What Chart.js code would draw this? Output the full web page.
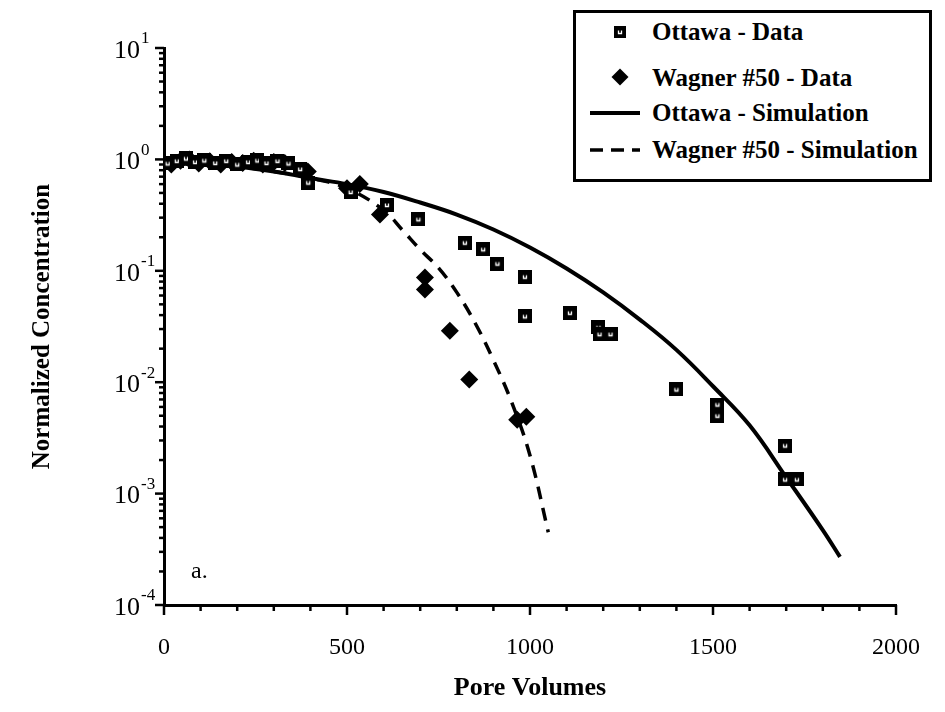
<!DOCTYPE html>
<html>
<head>
<meta charset="utf-8">
<script src="https://cdn.jsdelivr.net/npm/chart.js@4.4.1/dist/chart.umd.min.js"></script>
<style>
    html, body { margin: 0; padding: 0; background: #fff; }
    #wrap { position: relative; width: 945px; height: 712px; }
    #legend {
        position: absolute; left: 573px; top: 10px; width: 353px; height: 166px;
        border: 3px solid #000; background: #fff;
        font-family: "Liberation Serif", "Times New Roman", serif; font-weight: bold; font-size: 25px;
    }
    .item { position: absolute; left: 0; height: 30px; line-height: 30px; white-space: nowrap; }
    .item .txt { position: absolute; left: 76px; top: 0; }
    .item canvas, .item svg, .item .dia { position: absolute; }
</style>
</head>
<body>
<div id="wrap">
    <canvas id="chart" width="945" height="712"></canvas>
    <div id="legend"></div>
</div>
<script>
// Axis setup
const xMin = 0, xMax = 2000, xMajorStep = 500, xMinorStep = 100;
const yDecades = [-4, -3, -2, -1, 0, 1];

// Ottawa - Data (squares)
const ottawaDataX = [10, 35, 60, 85, 110, 140, 170, 200, 230, 255, 280, 310, 340, 372, 394, 510, 609, 695, 822, 872, 911, 986, 986, 1109, 1187, 1190, 1220, 1400, 1512, 1512, 1697, 1697, 1729];
const ottawaDataY = [0.92, 0.97, 1.02, 0.95, 0.98, 0.93, 0.97, 0.9, 0.95, 0.98, 0.93, 0.97, 0.92, 0.82, 0.62, 0.51, 0.39, 0.29, 0.179, 0.156, 0.116, 0.0885, 0.039, 0.042, 0.031, 0.027, 0.027, 0.0086, 0.0063, 0.005, 0.0027, 0.00134, 0.00134];

// Wagner #50 - Data (diamonds)
const wagnerDataX = [0, 20, 45, 70, 95, 125, 155, 185, 215, 245, 270, 300, 330, 393, 500, 535, 590, 713, 713, 781, 834, 965, 990];
const wagnerDataY = [0.93, 0.9, 0.97, 1.0, 0.92, 0.96, 0.9, 0.95, 0.93, 0.97, 0.9, 0.95, 0.93, 0.78, 0.55, 0.6, 0.32, 0.087, 0.068, 0.029, 0.0106, 0.0046, 0.0049];

// Ottawa - Simulation (solid)
const ottawaSimX = [0, 100, 200, 300, 400, 500, 600, 700, 800, 900, 1000, 1100, 1200, 1300, 1400, 1500, 1600, 1700, 1800, 1847];
const ottawaSimY = [0.93, 0.9, 0.86, 0.78, 0.68, 0.6, 0.51, 0.41, 0.32, 0.235, 0.162, 0.105, 0.064, 0.0365, 0.0195, 0.0092, 0.0041, 0.0014, 0.00047, 0.00027];

// Wagner #50 - Simulation (dashed)
const wagnerSimX = [0, 100, 200, 300, 400, 500, 600, 650, 700, 750, 800, 850, 900, 950, 1000, 1050];
const wagnerSimY = [0.93, 0.9, 0.86, 0.78, 0.68, 0.55, 0.35, 0.235, 0.155, 0.106, 0.064, 0.034, 0.0158, 0.0066, 0.0022, 0.00045];

const seriesNames = ['Ottawa - Data', 'Wagner #50 - Data', 'Ottawa - Simulation', 'Wagner #50 - Simulation'];

const toPoints = (xs, ys) => xs.map((x, i) => ({ x: x, y: ys[i] }));

function makeSquareMarker(size) {
    const c = document.createElement('canvas');
    c.width = size; c.height = size;
    const g = c.getContext('2d');
    g.fillStyle = '#000';
    g.fillRect(0, 0, size, size);
    g.strokeStyle = '#fff';
    g.lineWidth = 1.3;
    const m = Math.round(size * 0.33) + 0.5;
    g.beginPath();
    g.moveTo(m, m);
    g.lineTo(m, size - m);
    g.lineTo(size - m, size - m);
    g.lineTo(size - m, m);
    g.stroke();
    return c;
}

const squareMarker = makeSquareMarker(14);
const serif = '"Liberation Serif", "Times New Roman", serif';

// Ticks, exponent labels and panel tag
const axisDecor = {
    id: 'axisDecor',
    afterDraw(chart) {
        const { ctx, chartArea } = chart;
        const x = chart.scales.x, y = chart.scales.y;
        ctx.save();
        ctx.strokeStyle = '#000';
        ctx.lineWidth = 2.5;
        for (let v = xMin; v <= xMax; v += xMinorStep) {
            const px = x.getPixelForValue(v);
            const len = v % xMajorStep === 0 ? 10 : 6;
            ctx.beginPath();
            ctx.moveTo(px, chartArea.bottom);
            ctx.lineTo(px, chartArea.bottom + len);
            ctx.stroke();
        }
        yDecades.forEach(e => {
            for (let m = 1; m <= 9; m++) {
                if (e === yDecades[yDecades.length - 1] && m > 1) break;
                const py = y.getPixelForValue(m * Math.pow(10, e));
                const len = m === 1 ? 9 : 5;
                ctx.beginPath();
                ctx.moveTo(chartArea.left, py);
                ctx.lineTo(chartArea.left - len, py);
                ctx.stroke();
            }
        });
        ctx.fillStyle = '#000';
        ctx.textBaseline = 'middle';
        yDecades.forEach(e => {
            const py = y.getPixelForValue(Math.pow(10, e));
            ctx.font = '26px ' + serif;
            ctx.textAlign = 'right';
            ctx.fillText('10', chartArea.left - 24, py + 3);
            ctx.font = '17px ' + serif;
            ctx.textAlign = 'left';
            ctx.fillText(String(e), chartArea.left - 23, py - 9);
        });
        ctx.font = '24px ' + serif;
        ctx.textAlign = 'left';
        ctx.fillText('a.', chartArea.left + 27, chartArea.bottom - 33);
        ctx.restore();
    }
};

const ctx = document.getElementById('chart').getContext('2d');
const chart = new Chart(ctx, {
    type: 'scatter',
    data: {
        datasets: [
            {
                label: seriesNames[0],
                data: toPoints(ottawaDataX, ottawaDataY),
                pointStyle: squareMarker,
                showLine: false
            },
            {
                label: seriesNames[1],
                data: toPoints(wagnerDataX, wagnerDataY),
                pointStyle: 'rectRot',
                pointRadius: 9,
                backgroundColor: '#000',
                borderColor: '#000',
                borderWidth: 0,
                showLine: false
            },
            {
                label: seriesNames[2],
                data: toPoints(ottawaSimX, ottawaSimY),
                showLine: true,
                borderColor: '#000',
                borderWidth: 4,
                pointRadius: 0,
                tension: 0.4
            },
            {
                label: seriesNames[3],
                data: toPoints(wagnerSimX, wagnerSimY),
                showLine: true,
                borderColor: '#000',
                borderWidth: 3.5,
                borderDash: [13, 9],
                pointRadius: 0,
                tension: 0.4
            }
        ]
    },
    options: {
        responsive: false,
        animation: false,
        devicePixelRatio: 1,
        layout: { padding: { top: 48, right: 49, left: 0, bottom: 0 } },
        plugins: {
            legend: { display: false },
            tooltip: { enabled: false }
        },
        scales: {
            x: {
                type: 'linear',
                min: xMin,
                max: xMax,
                grid: { display: false },
                border: { display: true, color: '#000', width: 3 },
                ticks: {
                    stepSize: xMajorStep,
                    padding: 20,
                    color: '#000',
                    font: { family: serif, size: 24 },
                    maxRotation: 0,
                    callback: v => String(v)
                },
                title: {
                    display: true,
                    text: 'Pore Volumes',
                    color: '#000',
                    font: { family: serif, size: 26, weight: 'bold' },
                    padding: { top: 0, bottom: 8 }
                },
                afterFit: s => { s.height = 107; }
            },
            y: {
                type: 'logarithmic',
                min: 1e-4,
                max: 10,
                grid: { display: false },
                border: { display: true, color: '#000', width: 3 },
                ticks: { display: false },
                title: {
                    display: true,
                    text: 'Normalized Concentration',
                    color: '#000',
                    font: { family: serif, size: 25, weight: 'bold' },
                    padding: { top: 28, bottom: 0 }
                },
                afterFit: s => { s.width = 164; }
            }
        }
    },
    plugins: [axisDecor]
});

// HTML legend
const legendEl = document.getElementById('legend');
const rowCenters = [19, 65, 100, 137];
seriesNames.forEach((name, i) => {
    const item = document.createElement('div');
    item.className = 'item';
    item.style.top = (rowCenters[i] - 15) + 'px';
    item.style.width = '100%';
    if (i === 0) {
        const m = makeSquareMarker(12);
        m.style.left = '38px'; m.style.top = '9px';
        item.appendChild(m);
    } else if (i === 1) {
        const d = document.createElement('div');
        d.className = 'dia';
        d.style.cssText = 'left:38px;top:8px;width:12px;height:12px;background:#000;transform:rotate(45deg);';
        item.appendChild(d);
    } else {
        const svgNS = 'http://www.w3.org/2000/svg';
        const svg = document.createElementNS(svgNS, 'svg');
        svg.setAttribute('width', '56'); svg.setAttribute('height', '30');
        svg.style.left = '12px'; svg.style.top = '0px';
        const ln = document.createElementNS(svgNS, 'line');
        ln.setAttribute('x1', '2'); ln.setAttribute('x2', '52');
        ln.setAttribute('y1', '15'); ln.setAttribute('y2', '15');
        ln.setAttribute('stroke', '#000'); ln.setAttribute('stroke-width', i === 2 ? '4' : '3.5');
        if (i === 3) ln.setAttribute('stroke-dasharray', '13 8');
        svg.appendChild(ln);
        item.appendChild(svg);
    }
    const t = document.createElement('span');
    t.className = 'txt';
    t.textContent = name;
    item.appendChild(t);
    legendEl.appendChild(item);
});
</script>
</body>
</html>
